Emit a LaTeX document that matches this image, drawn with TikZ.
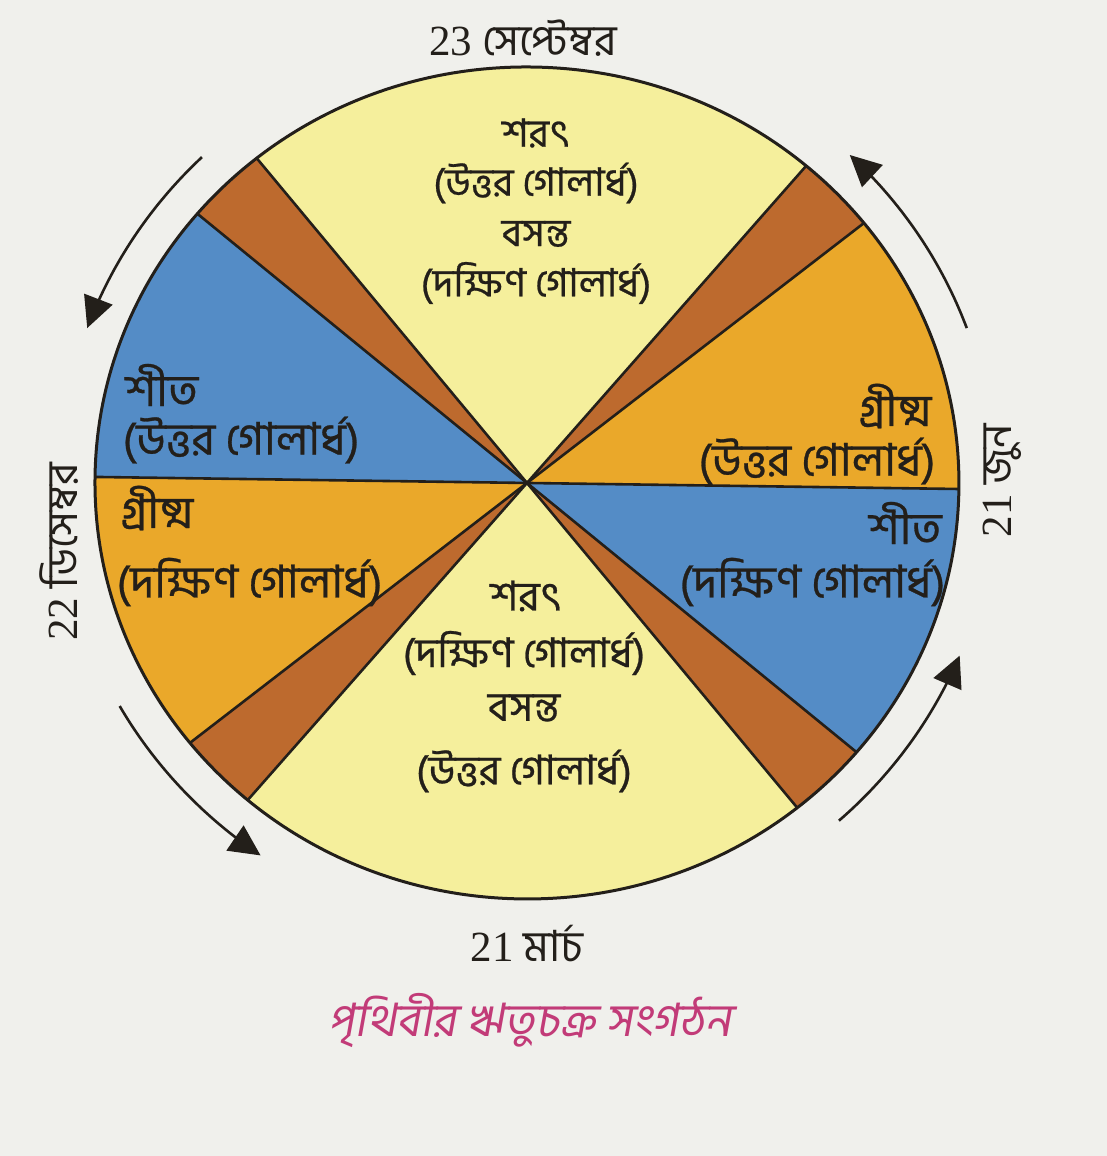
\documentclass[tikz,border=0pt]{standalone}
\usepackage{fontspec}
\usepackage{graphicx}
\usetikzlibrary{arrows.meta}
\newfontfamily\bn[Script=Bengali,FakeBold=0.6]{Hind Siliguri}
\newfontfamily\bnd[Script=Bengali]{Hind Siliguri}
\newfontfamily\bncap[Script=Bengali,FakeSlant=0.18]{Hind Siliguri}
\newfontfamily\ser{Liberation Serif}
\definecolor{paper}{HTML}{F0F0EC}
\definecolor{pyellow}{HTML}{F5EF9C}
\definecolor{gold}{HTML}{EAA82A}
\definecolor{sky}{HTML}{548CC6}
\definecolor{rust}{HTML}{BD6A2E}
\definecolor{ink}{HTML}{231F1A}
\definecolor{plum}{HTML}{C23B78}
\begin{document}
\begin{tikzpicture}[x=0.5pt,y=-0.5pt,
  edge/.style={draw=ink,line width=1.3pt},
  rim/.style={draw=ink,line width=1.5pt},
  cyc/.style={draw=ink,line width=1.3pt,-{Triangle[length=15.5pt,width=15pt]}},
  lab/.style={inner sep=0pt,text=ink},
  toplab/.style={lab,font=\bn\fontsize{19.5pt}{22pt}\selectfont},
  botlab/.style={lab,font=\bn\fontsize{20.5pt}{23pt}\selectfont},
  sidelab/.style={lab,font=\bn\fontsize{22.5pt}{25pt}\selectfont},
  datelab/.style={lab,font=\bnd\fontsize{21.5pt}{24pt}\selectfont},
  caplab/.style={inner sep=0pt,text=plum,font=\bncap\fontsize{23pt}{27pt}\selectfont}]
\fill[paper] (0,0) rectangle (1107,1156);
\useasboundingbox (0,0) rectangle (1107,1156);
\coordinate (O) at (527,483);
\begin{scope}[rotate around={-0.8:(O)}]
  \foreach \n/\a in {R/0,ura/39.5,urb/50.5,T/90,ula/129.5,ulb/140.5,L/180,lla/219.5,llb/230.5,B/270,lra/309.5,lrb/320.5}{
    \coordinate (P\n) at ({527+432*cos(\a)},{483-416*sin(\a)});
    \coordinate (F\n) at ({527+1296*cos(\a)},{483-1248*sin(\a)});
  }
  \begin{scope}
    \clip (O) ellipse [x radius=216pt, y radius=208pt];
    \fill[pyellow] (O) -- (Furb) -- (FT) -- (Fula) -- cycle;
    \fill[rust] (O) -- (Fula) -- (Fulb) -- cycle;
    \fill[sky] (O) -- (Fulb) -- (FL) -- cycle;
    \fill[gold] (O) -- (FL) -- (Flla) -- cycle;
    \fill[rust] (O) -- (Flla) -- (Fllb) -- cycle;
    \fill[pyellow] (O) -- (Fllb) -- (FB) -- (Flra) -- cycle;
    \fill[rust] (O) -- (Flra) -- (Flrb) -- cycle;
    \fill[sky] (O) -- (Flrb) -- (FR) -- cycle;
    \fill[gold] (O) -- (FR) -- (Fura) -- cycle;
    \fill[rust] (O) -- (Fura) -- (Furb) -- cycle;
  \end{scope}
  \draw[edge] (PL) -- (PR);
  \draw[edge] (Pura) -- (Plla);
  \draw[edge] (Purb) -- (Pllb);
  \draw[edge] (Pula) -- (Plra);
  \draw[edge] (Pulb) -- (Plrb);
  \draw[rim] (O) ellipse [x radius=216pt, y radius=208pt];
\end{scope}
% season-cycle arrows
\draw[cyc] plot[domain=134:160,samples=40,variable=\t] ({527+468*cos(\t)},{483-453*sin(\t)});
\draw[cyc] plot[domain=209.5:235.3,samples=40,variable=\t] ({527+468*cos(\t)},{483-453*sin(\t)});
\draw[cyc] plot[domain=311.8:337.6,samples=40,variable=\t] ({527+468*cos(\t)},{483-453*sin(\t)});
\draw[cyc] plot[domain=20:46.4,samples=40,variable=\t] ({527+468*cos(\t)},{483-453*sin(\t)});
% top sector
\node[toplab] (t1) at (536,133) {শরৎ};
\node[toplab] (t2) at (536,183) {(উত্তর গোলার্ধ)};
\node[toplab] (t3) at (536,234) {বসন্ত};
\node[toplab] (t4) at (536,283) {(দক্ষিণ গোলার্ধ)};
% bottom sector
\node[botlab] (b1) at (526,596) {শরৎ};
\node[botlab] (b2) at (524,653) {(দক্ষিণ গোলার্ধ)};
\node[botlab] (b3) at (524,708) {বসন্ত};
\node[botlab] (b4) at (524,771) {(উত্তর গোলার্ধ)};
% left sectors
\node[sidelab,anchor=west] (l1) at (125,385) {শীত};
\node[sidelab,anchor=west] (l2) at (122,440) {(উত্তর গোলার্ধ)};
\node[sidelab,anchor=west] (l3) at (120,508) {গ্রীষ্ম};
\node[sidelab,anchor=west] (l4) at (116,582) {(দক্ষিণ গোলার্ধ)};
% right sectors
\node[sidelab,anchor=east] (r1) at (932,406) {গ্রীষ্ম};
\node[sidelab,anchor=east] (r2) at (936,461) {(উত্তর গোলার্ধ)};
\node[sidelab,anchor=east] (r3) at (942,523) {শীত};
\node[sidelab,anchor=east] (r4) at (946,582) {(দক্ষিণ গোলার্ধ)};
% dates
\node[datelab] (sep) at (523,38) {{\ser 23} সেপ্টেম্বর};
\node[datelab] (mar) at (527,944) {{\ser 21} মার্চ};
\node[datelab,rotate=90] (jun) at (1002,481) {{\ser 21} জুন};
\node[datelab,rotate=90] (dec) at (59,552) {{\ser 22} ডিসেম্বর};
% caption
\node[caplab] (cap) at (530,1020) {পৃথিবীর ঋতুচক্র সংগঠন};
\end{tikzpicture}
\end{document}
